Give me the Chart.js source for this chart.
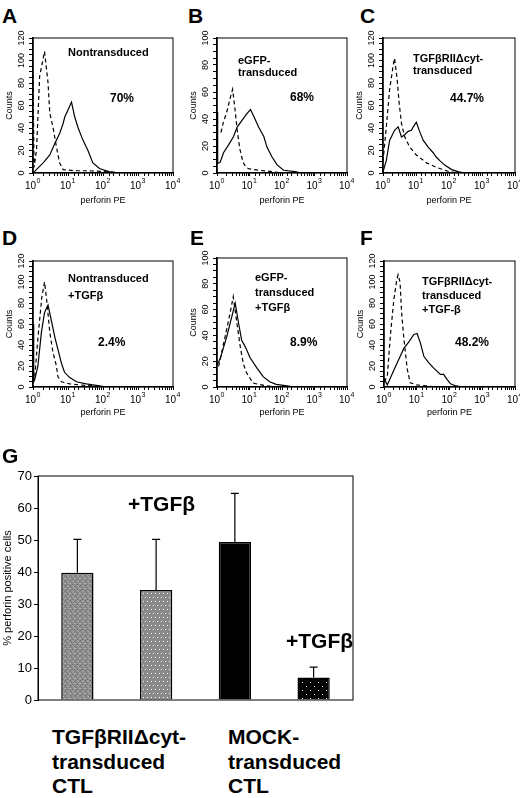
<!DOCTYPE html>
<html>
<head>
<meta charset="utf-8">
<script src="https://cdn.jsdelivr.net/npm/chart.js"></script>
<style>
html,body{margin:0;padding:0;background:#fff;}
body{width:520px;height:798px;position:relative;overflow:hidden;font-family:"Liberation Sans",Arial,sans-serif;color:#000;}
canvas{position:absolute;}
.t{position:absolute;font-weight:bold;white-space:nowrap;line-height:1;}
.let{font-size:21px;}
.ann{font-size:11px;}
.pct{font-size:12px;}
.big{font-size:21px;}
</style>
</head>
<body>
<canvas id="hA" width="180" height="178" style="left:0;top:28px;width:180px;height:178px"></canvas>
<canvas id="hB" width="170" height="178" style="left:184px;top:28px;width:170px;height:178px"></canvas>
<canvas id="hC" width="170" height="178" style="left:350px;top:28px;width:170px;height:178px"></canvas>
<canvas id="hD" width="180" height="167" style="left:0;top:251px;width:180px;height:167px"></canvas>
<canvas id="hE" width="170" height="170" style="left:184px;top:248px;width:170px;height:170px"></canvas>
<canvas id="hF" width="170" height="167" style="left:351px;top:251px;width:170px;height:167px"></canvas>
<canvas id="g" width="360" height="250" style="left:0;top:460px;width:360px;height:250px"></canvas>

<div class="t let" style="left:2px;top:5px">A</div>
<div class="t let" style="left:188px;top:5px">B</div>
<div class="t let" style="left:360px;top:5px">C</div>
<div class="t let" style="left:2px;top:227px">D</div>
<div class="t let" style="left:190px;top:227px">E</div>
<div class="t let" style="left:360px;top:227px">F</div>
<div class="t let" style="left:2px;top:445px">G</div>

<div class="t ann" style="left:68px;top:47px">Nontransduced</div>
<div class="t pct" style="left:110px;top:92px">70%</div>
<div class="t ann" style="left:238px;top:54px;line-height:12px">eGFP-<br>transduced</div>
<div class="t pct" style="left:290px;top:91px">68%</div>
<div class="t ann" style="left:413px;top:52px;line-height:12px">TGFβRIIΔcyt-<br>transduced</div>
<div class="t pct" style="left:450px;top:92px">44.7%</div>

<div class="t ann" style="left:68px;top:270px;line-height:17px">Nontransduced<br>+TGFβ</div>
<div class="t pct" style="left:98px;top:336px">2.4%</div>
<div class="t ann" style="left:255px;top:270px;line-height:15px">eGFP-<br>transduced<br>+TGFβ</div>
<div class="t pct" style="left:290px;top:336px">8.9%</div>
<div class="t ann" style="left:422px;top:274px;line-height:14px">TGFβRIIΔcyt-<br>transduced<br>+TGF-β</div>
<div class="t pct" style="left:455px;top:336px">48.2%</div>

<div class="t big" style="left:128px;top:493px">+TGFβ</div>
<div class="t big" style="left:286px;top:630px">+TGFβ</div>
<div class="t big" style="left:52px;top:725px;line-height:24.7px">TGFβRIIΔcyt-<br>transduced<br>CTL</div>
<div class="t big" style="left:228px;top:725px;line-height:24.7px">MOCK-<br>transduced<br>CTL</div>

<script>
// histogram traces, each point = [log10(perforin PE), counts]
const aSolid  = [[0,0],[0.29,9],[0.48,16],[0.62,26],[0.76,35],[0.86,44],[0.91,50],[1.0,56],[1.1,63],[1.19,50],[1.29,40],[1.43,29],[1.57,20],[1.71,9],[1.9,4],[2.19,1],[2.45,0]];
const aDashed = [[0,88],[0.03,5],[0.1,20],[0.19,86],[0.33,108],[0.43,80],[0.48,53],[0.57,41],[0.67,23],[0.76,9],[0.86,3],[1.2,2],[1.6,2],[2.2,1],[2.5,0]];
const bSolid  = [[0,45],[0.02,7],[0.1,8],[0.2,15],[0.36,21],[0.51,27],[0.62,34],[0.77,39],[0.92,44],[1.03,47],[1.13,42],[1.28,34],[1.44,27],[1.54,19],[1.69,12],[1.85,6],[2.05,2],[2.4,1],[2.6,0]];
const bDashed = [[0.12,30],[0.2,38],[0.3,45],[0.4,55],[0.48,62],[0.55,48],[0.62,32],[0.7,18],[0.8,8],[0.9,4],[1.0,3],[1.3,2],[1.7,1],[2.0,0]];
const cSolid  = [[0,1],[0.1,11],[0.2,29],[0.35,38],[0.46,41],[0.56,32],[0.66,34],[0.76,37],[0.86,38],[0.96,43],[1.01,45],[1.11,37],[1.22,29],[1.37,23],[1.52,18],[1.62,14],[1.72,11],[1.87,7],[2.08,3],[2.3,1],[2.5,0]];
const cDashed = [[0,10],[0.1,41],[0.2,74],[0.3,94],[0.35,102],[0.43,83],[0.49,62],[0.56,44],[0.66,32],[0.81,23],[1.01,16],[1.32,9],[1.62,5],[2.03,1],[2.3,0]];
const dSolid  = [[0,60],[0.02,5],[0.05,7],[0.14,20],[0.24,52],[0.33,71],[0.43,78],[0.52,64],[0.62,48],[0.71,36],[0.81,23],[0.9,14],[1.05,9],[1.24,5],[1.52,3],[1.9,1],[2.1,0]];
const dDashed = [[0.05,10],[0.15,50],[0.25,85],[0.33,100],[0.4,80],[0.48,52],[0.57,33],[0.67,20],[0.71,10],[0.81,5],[1.05,3],[1.33,2],[1.71,1],[2.0,0]];
const eSolid  = [[0,17],[0.1,22],[0.3,39],[0.46,55],[0.56,65],[0.66,50],[0.76,36],[0.81,34],[0.91,29],[1.01,23],[1.22,15],[1.42,8],[1.62,4],[1.82,2],[2.1,1],[2.4,0]];
const eDashed = [[0.05,16],[0.25,39],[0.4,57],[0.5,70],[0.61,50],[0.71,32],[0.81,18],[0.91,11],[1.11,3],[1.5,1],[1.9,0]];
const fSolid  = [[0,8],[0.1,2],[0.3,16],[0.46,27],[0.61,37],[0.76,43],[0.91,50],[1.01,51],[1.11,42],[1.22,29],[1.37,23],[1.52,18],[1.72,12],[1.82,12],[1.93,7],[2.03,3],[2.2,1],[2.4,0]];
const fDashed = [[0,5],[0.1,10],[0.2,51],[0.3,83],[0.39,102],[0.43,107],[0.49,100],[0.54,70],[0.61,45],[0.71,17],[0.8,4],[1.0,2],[1.3,1],[1.6,0]];
const decades = [0, 1, 2, 3, 4];

// panel G
const gLabels = ['TGFβRIIΔcyt-transduced CTL', 'TGFβRIIΔcyt-transduced CTL +TGFβ', 'MOCK-transduced CTL', 'MOCK-transduced CTL +TGFβ'];
const gValues = [39.8, 34.4, 49.4, 7.0];
const gErrTop = [50.2, 50.2, 64.6, 10.3];
const gTicks = [0, 10, 20, 30, 40, 50, 60, 70];

var FONT = '"Liberation Sans", Arial, sans-serif';
Chart.defaults.font.family = FONT;
Chart.defaults.color = '#000';

var frame = { id: 'frame', afterDraw: function(chart){
  var a = chart.chartArea, c = chart.ctx;
  c.save(); c.strokeStyle = '#000'; c.lineWidth = 1;
  c.strokeRect(a.left, a.top, a.right - a.left, a.bottom - a.top);
  c.restore();
}};

var histLabels = { id: 'histLabels', afterDraw: function(chart){
  var c = chart.ctx, xs = chart.scales.x, ys = chart.scales.y, a = chart.chartArea;
  c.save(); c.fillStyle = '#000'; c.textBaseline = 'middle';
  decades.forEach(function(d){
    var px = xs.getPixelForValue(Math.pow(10, d));
    c.font = '10px ' + FONT; c.textAlign = 'right';
    c.fillText('10', px + 3, a.bottom + 13);
    c.font = '7px ' + FONT; c.textAlign = 'left';
    c.fillText(String(d), px + 3.5, a.bottom + 8);
  });
  c.font = '9px ' + FONT; c.textAlign = 'center';
  ys.ticks.forEach(function(t){
    if (t.value % 20) return;
    var py = ys.getPixelForValue(t.value);
    c.save(); c.translate(a.left - 11.5, py); c.rotate(-Math.PI / 2);
    c.fillText(String(t.value), 0, 0); c.restore();
  });
  c.restore();
}};

function toXY(arr){ return arr.map(function(p){ return { x: Math.pow(10, p[0]), y: p[1] }; }); }

function hist(id, solid, dashed, ymax, padTop, padRight, xh){
  new Chart(document.getElementById(id), {
    type: 'line',
    data: { datasets: [
      { data: toXY(solid), borderColor: '#000', borderWidth: 1.2, pointRadius: 0, tension: 0, fill: false },
      { data: toXY(dashed), borderColor: '#000', borderWidth: 1.2, borderDash: [4, 3], pointRadius: 0, tension: 0, fill: false }
    ]},
    options: {
      responsive: false, animation: false,
      layout: { padding: { top: padTop, right: padRight, bottom: 0, left: 0 } },
      plugins: { legend: { display: false }, tooltip: { enabled: false } },
      scales: {
        x: { type: 'logarithmic', min: 1, max: 10000,
             ticks: { display: false, autoSkip: false },
             grid: { drawOnChartArea: false, tickLength: 3, color: '#000' },
             border: { color: '#000', width: 1.2 },
             title: { display: true, text: 'perforin PE', font: { size: 9 }, color: '#000', padding: 0 },
             afterFit: function(s){ s.height = xh; } },
        y: { min: 0, max: ymax,
             ticks: { display: false, stepSize: 5 },
             grid: { drawOnChartArea: false, tickLength: 4, color: '#000' },
             border: { color: '#000', width: 1.6 },
             title: { display: true, text: 'Counts', font: { size: 9 }, color: '#000', padding: { top: 4, bottom: 0 } },
             afterFit: function(s){ s.width = 33; } }
      }
    },
    plugins: [frame, histLabels]
  });
}

hist('hA', aSolid, aDashed, 120, 10, 7, 33);
hist('hB', bSolid, bDashed, 100, 10, 7, 33);
hist('hC', cSolid, cDashed, 120, 10, 5, 33);
hist('hD', dSolid, dDashed, 120, 10, 7, 31);
hist('hE', eSolid, eDashed, 100, 10, 7, 31);
hist('hF', fSolid, fDashed, 120, 10, 6, 31);

// fill patterns for the bars: [x, y, colour] cells on a background
function pattern(bg, size, cells){
  var cv = document.createElement('canvas'); cv.width = cv.height = size;
  var x = cv.getContext('2d');
  x.fillStyle = bg; x.fillRect(0, 0, size, size);
  cells.forEach(function(d){ x.fillStyle = d[2]; x.fillRect(d[0], d[1], 1, 1); });
  return x.createPattern(cv, 'repeat');
}
var p1 = pattern('#8e8e8e', 5, [[0,0,'#6a6a6a'],[3,1,'#b0b0b0'],[1,2,'#707070'],[4,3,'#aaaaaa'],[2,4,'#666'],[2,0,'#a8a8a8'],[4,1,'#777'],[0,3,'#b4b4b4']]);
var p2 = pattern('#8a8a8a', 8, [[1,1,'#fff'],[5,1,'#fff'],[3,5,'#fff'],[7,5,'#fff']]);
var p4 = pattern('#000', 8, [[2,2,'#fff'],[6,6,'#fff']]);

var errBars = { id: 'errBars', afterDatasetsDraw: function(chart){
  var c = chart.ctx, ys = chart.scales.y, meta = chart.getDatasetMeta(0);
  c.save(); c.strokeStyle = '#000'; c.lineWidth = 1.2;
  meta.data.forEach(function(bar, i){
    var top = ys.getPixelForValue(gErrTop[i]);
    c.beginPath();
    c.moveTo(bar.x, bar.y); c.lineTo(bar.x, top);
    c.moveTo(bar.x - 4, top); c.lineTo(bar.x + 4, top);
    c.stroke();
  });
  c.restore();
}};

new Chart(document.getElementById('g'), {
  type: 'bar',
  data: { labels: gLabels, datasets: [{
    data: gValues, backgroundColor: [p1, p2, '#000', p4], borderColor: '#000', borderWidth: 1.5,
    barPercentage: 0.41, categoryPercentage: 1
  }]},
  options: {
    responsive: false, animation: false,
    layout: { padding: { top: 16, right: 7, bottom: 10, left: 0 } },
    plugins: { legend: { display: false }, tooltip: { enabled: false } },
    scales: {
      x: { display: false },
      y: { min: 0, max: 70,
           afterBuildTicks: function(s){ s.ticks = gTicks.map(function(v){ return { value: v }; }); },
           ticks: { color: '#000', font: { size: 13 }, padding: 2 },
           grid: { drawOnChartArea: false, tickLength: 4, color: '#000' },
           border: { color: '#000' },
           title: { display: true, text: '% perforin positive cells', font: { size: 11 }, color: '#000', padding: { top: 1, bottom: 0 } },
           afterFit: function(s){ s.width = 38; } }
    }
  },
  plugins: [frame, errBars]
});
</script>
</body>
</html>
